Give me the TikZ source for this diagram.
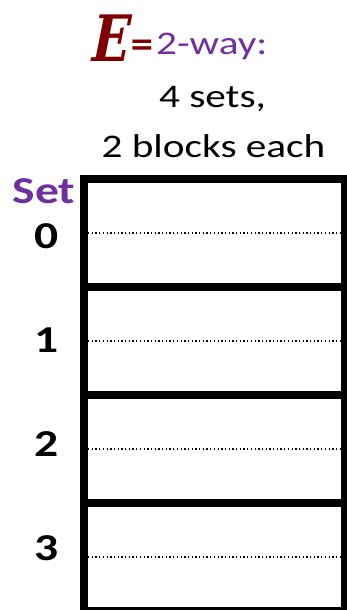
\documentclass[tikz,border=0pt]{standalone}
\usepackage{fontspec}
\setmainfont{Carlito}
\newfontfamily\calw[FakeStretch=1.25]{Carlito}
\newfontfamily\hand[FakeSlant=0.2,FakeStretch=0.78]{DejaVu Serif}
\newfontfamily\handeq{DejaVu Sans}
\definecolor{officepurple}{HTML}{7030A0}
\definecolor{handred}{HTML}{7F0000}
\begin{document}
\begin{tikzpicture}[x=1pt,y=-1pt,
  setrow/.style={draw=black,line width=8pt,minimum width=261pt,minimum height=108pt,inner sep=0pt,outer sep=0pt,anchor=north west},
  wayline/.style={line width=1.3pt,dash pattern=on 1.3pt off 2.4pt},
  caption/.style={font=\calw\fontsize{33}{38}\selectfont,inner sep=0pt,anchor=base},
  setlabel/.style={font=\calw\bfseries\fontsize{38}{44}\selectfont,inner sep=0pt,anchor=base}]
\useasboundingbox (0,0) rectangle (347,610);
\clip (0,0) rectangle (347,610);
\foreach \i in {0,1,2,3}{
  \node[setrow] (set\i) at (84,{179+108*\i}) {};
  \draw[wayline] ([xshift=4pt]set\i.west) -- ([xshift=-4pt]set\i.east);
  \node[setlabel] (lab\i) at (46.5,{248+104*\i}) {\i};
}
\node[setlabel,text=officepurple] (sethead) at (44,203) {Set};
\node[font=\hand\bfseries\fontsize{64}{70}\selectfont,text=handred,inner sep=0pt,anchor=base west] (ee) at (88,61) {E};
\node[font=\handeq\bfseries\fontsize{30}{34}\selectfont,text=handred,inner sep=0pt] (eqs) at (142,47) {=};
\node[caption,text=officepurple,anchor=base west] (way) at (156,55) {2-way:};
\node[caption] (sets) at (212.5,107) {4 sets,};
\node[caption] (blocks) at (213.5,157) {2 blocks each};
\end{tikzpicture}
\end{document}
